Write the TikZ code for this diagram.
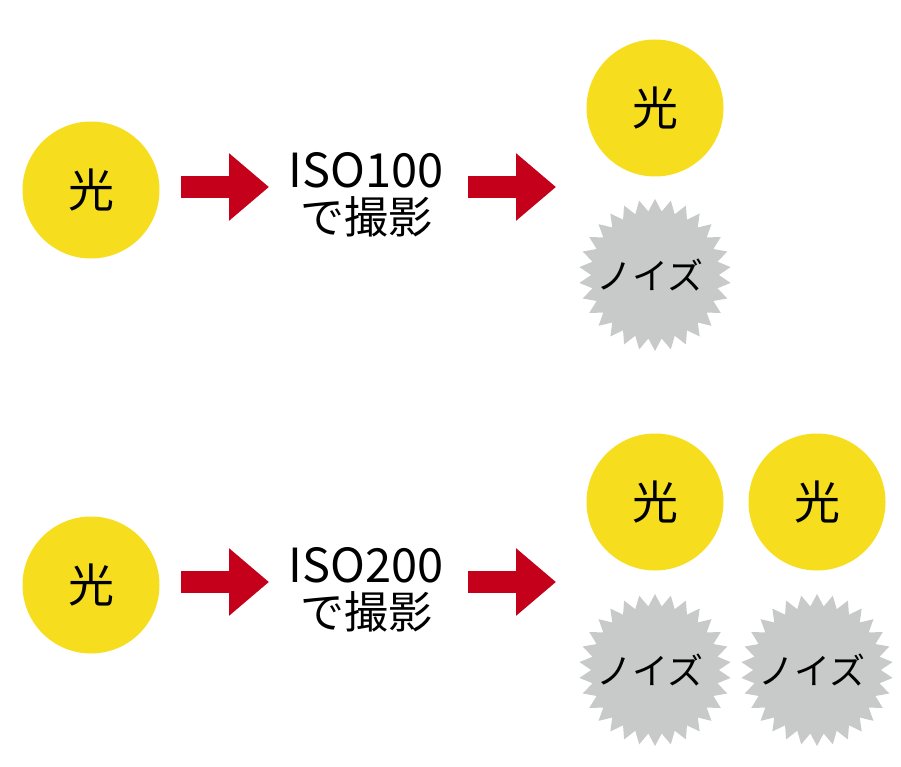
\documentclass[tikz,border=0pt]{standalone}
\usepackage{fontspec}
\setmainfont{Noto Sans CJK JP}
\usetikzlibrary{arrows.meta, shapes.geometric}
\definecolor{lightyellow}{RGB}{246,222,30}
\definecolor{arrowred}{RGB}{196,0,26}
\definecolor{noisegray}{RGB}{200,201,201}

\begin{document}
\begin{tikzpicture}[x=1pt, y=-1pt,
    light/.style={circle, fill=lightyellow, minimum size=137pt, inner sep=0pt,
        font=\fontsize{46}{46}\selectfont},
    noise/.style={star, star points=30, star point ratio=1.19, fill=noisegray,
        minimum size=152pt, inner sep=0pt},
    noisetext/.style={font=\fontsize{36}{36}\selectfont, xshift=-5pt},
    iso/.style={align=center, inner sep=0pt, font=\fontsize{44}{46}\selectfont},
    redarrow/.style={draw=arrowred, line width=22pt,
        -{Triangle[length=40pt, width=65pt, fill=arrowred]}}]

    \useasboundingbox (0,0) rectangle (901,767);

    % Coordinates for the top row
    \coordinate (A0) at (91, 190);   % incoming light
    \coordinate (A1) at (366, 195);  % ISO100 text
    \coordinate (A2) at (655, 108);  % light out
    \coordinate (A3) at (655, 275);  % noise out
    \coordinate (tipA1) at (269, 187);
    \coordinate (tipA2) at (556, 187);

    % Coordinates for the bottom row
    \coordinate (B0) at (91, 585);
    \coordinate (B1) at (366, 590);
    \coordinate (B2) at (655, 502);
    \coordinate (B3) at (817, 502);
    \coordinate (B4) at (655, 670);
    \coordinate (B5) at (817, 670);
    \coordinate (tipB1) at (269, 582);
    \coordinate (tipB2) at (556, 582);

    % Top row: ISO100
    \node[light] (lightA) at (A0) {光};
    \node[iso] (isoA) at (A1) {{\fontsize{47}{46}\selectfont ISO100}\\で撮影};
    \node[light] (outA) at (A2) {光};
    \node[noise] (noiseA) at (A3) {};
    \node[noisetext] (noiseAtext) at (noiseA) {ノイズ};

    % Bottom row: ISO200
    \node[light] (lightB) at (B0) {光};
    \node[iso] (isoB) at (B1) {{\fontsize{47}{46}\selectfont ISO200}\\で撮影};
    \node[light] (outB1) at (B2) {光};
    \node[light] (outB2) at (B3) {光};
    \node[noise] (noiseB1) at (B4) {};
    \node[noisetext] (noiseB1text) at (noiseB1) {ノイズ};
    \node[noise] (noiseB2) at (B5) {};
    \node[noisetext] (noiseB2text) at (noiseB2) {ノイズ};

    % Draw the arrows
    \draw[redarrow] (lightA.east |- tipA1) ++(21,0) -- (tipA1);
    \draw[redarrow] (isoA.east |- tipA2) ++(24,0) -- (tipA2);
    \draw[redarrow] (lightB.east |- tipB1) ++(21,0) -- (tipB1);
    \draw[redarrow] (isoB.east |- tipB2) ++(24,0) -- (tipB2);

\end{tikzpicture}
\end{document}
